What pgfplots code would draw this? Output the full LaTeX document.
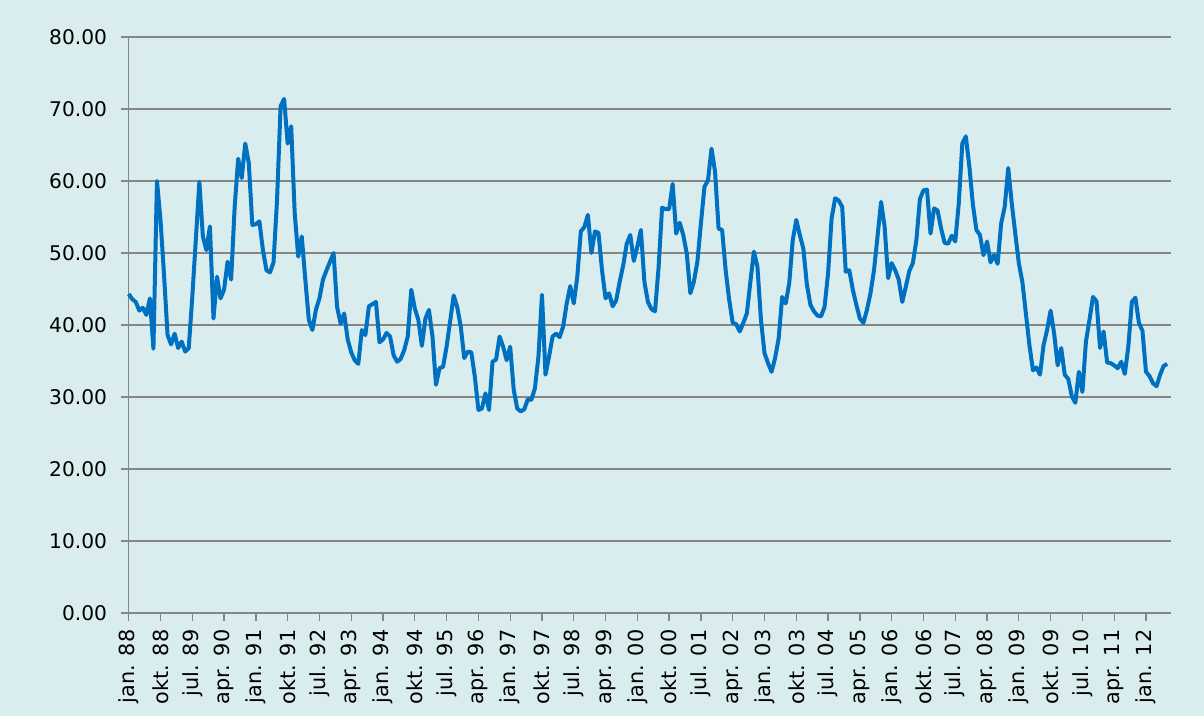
\documentclass[border=0pt]{standalone}
\usepackage{fontspec}
\setmainfont{DejaVu Sans}
\usepackage{pgfplots}
\pgfplotsset{compat=1.18}
\definecolor{bg}{RGB}{218,237,238}
\definecolor{ln}{RGB}{0,112,192}
\definecolor{gr}{RGB}{134,134,134}
\begin{document}
\begin{tikzpicture}
\fill[bg] (-64.35pt,-51.5pt) rectangle (537.65pt,306.5pt);
\path[use as bounding box] (-64.35pt,-51.5pt) rectangle (537.65pt,306.5pt);
\begin{axis}[
 scale only axis, width=521pt, height=288pt,
 at={(0pt,0pt)}, anchor=south west,
 xmin=0, xmax=295, ymin=0, ymax=80,
 axis lines*=left,
 axis line style={gr, line width=0.65pt},
 ytick={0,10,...,80},
 ymajorgrids, major grid style={gr, line width=0.65pt},
 tick align=outside,
 major tick length=3.8pt,
 tick style={gr, line width=0.65pt},
 xtick={0,9,...,288},
 xticklabels={jan. 88,okt. 88,jul. 89,apr. 90,jan. 91,okt. 91,jul. 92,apr. 93,jan. 94,okt. 94,jul. 95,apr. 96,jan. 97,okt. 97,jul. 98,apr. 99,jan. 00,okt. 00,jul. 01,apr. 02,jan. 03,okt. 03,jul. 04,apr. 05,jan. 06,okt. 06,jul. 07,apr. 08,jan. 09,okt. 09,jul. 10,apr. 11,jan. 12},
 x tick label style={rotate=90, anchor=east, font=\fontsize{10.4}{12}\selectfont},
 xticklabel shift=1pt,
 y tick label style={font=\fontsize{10.1}{12}\selectfont},
 yticklabel shift=3.5pt,
 yticklabel={\pgfmathprintnumber[fixed,fixed zerofill,precision=2,assume math mode=true]{\tick}},
 clip=false,
]
\addplot[ln, line width=2pt, line join=round] table {
x y
0 44.3
1 43.6
2 43.2
3 42.0
4 42.4
5 41.4
6 43.7
7 36.7
8 60.0
9 54.6
10 47.0
11 38.6
12 37.3
13 38.8
14 36.8
15 37.7
16 36.3
17 36.8
18 43.9
19 51.8
20 59.9
21 52.3
22 50.4
23 53.7
24 40.9
25 46.7
26 43.7
27 44.9
28 48.8
29 46.3
30 56.4
31 63.1
32 60.4
33 65.2
34 62.5
35 53.9
36 54.0
37 54.4
38 50.4
39 47.6
40 47.3
41 48.7
42 57.4
43 70.4
44 71.4
45 65.2
46 67.6
47 55.5
48 49.5
49 52.3
50 46.3
51 40.7
52 39.3
53 42.1
54 43.7
55 46.3
56 47.6
57 48.8
58 50.0
59 42.5
60 40.2
61 41.6
62 38.0
63 36.2
64 35.1
65 34.6
66 39.3
67 38.6
68 42.6
69 42.9
70 43.2
71 37.6
72 38.0
73 38.9
74 38.4
75 35.8
76 34.9
77 35.3
78 36.5
79 38.4
80 44.9
81 42.3
82 40.7
83 37.1
84 40.9
85 42.1
86 38.4
87 31.7
88 34.0
89 34.2
90 37.0
91 40.5
92 44.1
93 42.5
94 39.8
95 35.4
96 36.3
97 36.2
98 32.8
99 28.2
100 28.4
101 30.5
102 28.2
103 34.9
104 35.2
105 38.4
106 37.0
107 35.1
108 37.0
109 31.0
110 28.4
111 28.0
112 28.3
113 29.7
114 29.6
115 31.2
116 35.6
117 44.2
118 33.1
119 35.6
120 38.4
121 38.8
122 38.3
123 39.8
124 43.0
125 45.4
126 43.0
127 46.7
128 53.0
129 53.6
130 55.3
131 50.0
132 53.0
133 52.8
134 47.6
135 43.7
136 44.4
137 42.6
138 43.4
139 46.0
140 48.3
141 51.3
142 52.5
143 48.9
144 50.9
145 53.2
146 46.0
147 43.2
148 42.2
149 41.9
150 47.9
151 56.3
152 56.1
153 56.1
154 59.6
155 52.7
156 54.2
157 52.5
158 49.9
159 44.4
160 46.0
161 48.8
162 54.1
163 59.2
164 60.1
165 64.5
166 61.3
167 53.4
168 53.2
169 47.6
170 43.5
171 40.3
172 40.1
173 39.1
174 40.3
175 41.6
176 46.0
177 50.2
178 48.1
179 40.7
180 36.1
181 34.7
182 33.5
183 35.4
184 38.1
185 43.9
186 43.0
187 45.8
188 51.8
189 54.6
190 52.5
191 50.6
192 45.6
193 42.8
194 41.9
195 41.3
196 41.2
197 42.5
198 47.2
199 54.8
200 57.6
201 57.3
202 56.4
203 47.4
204 47.6
205 44.9
206 42.8
207 40.9
208 40.3
209 42.1
210 44.4
211 47.6
212 52.3
213 57.1
214 53.7
215 46.5
216 48.6
217 47.6
218 46.3
219 43.2
220 45.3
221 47.5
222 48.6
223 51.8
224 57.5
225 58.7
226 58.8
227 52.7
228 56.2
229 55.9
230 53.4
231 51.4
232 51.3
233 52.4
234 51.6
235 56.9
236 65.2
237 66.2
238 62.0
239 56.7
240 53.2
241 52.5
242 49.7
243 51.6
244 48.7
245 49.7
246 48.5
247 54.1
248 56.4
249 61.8
250 56.9
251 52.7
252 48.6
253 46.0
254 41.6
255 37.2
256 33.7
257 34.1
258 33.1
259 37.2
260 39.3
261 42.0
262 38.8
263 34.4
264 36.8
265 33.1
266 32.5
267 30.1
268 29.2
269 33.5
270 30.7
271 37.7
272 40.7
273 43.9
274 43.3
275 36.8
276 39.1
277 34.8
278 34.7
279 34.4
280 34.0
281 34.9
282 33.2
283 37.0
284 43.2
285 43.8
286 40.3
287 39.2
288 33.5
289 32.9
290 31.9
291 31.5
292 33.1
293 34.3
294 34.6
};
\end{axis}
\end{tikzpicture}
\end{document}
